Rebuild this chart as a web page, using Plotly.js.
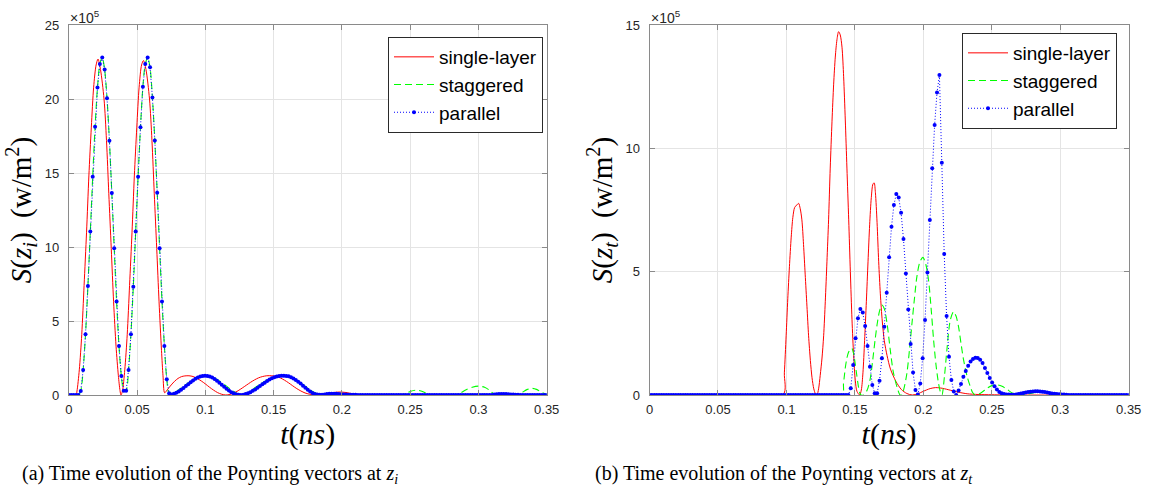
<!DOCTYPE html>
<html>
<head>
<meta charset="utf-8">
<script src="https://cdn.plot.ly/plotly-3.0.1.min.js"></script>
<style>html,body{margin:0;padding:0;background:#fff;}#chart{width:1151px;height:488px;}</style>
</head>
<body>
<div id="chart"></div>
<script>
// ---------- shared tick labels ----------
const xTickVals = [0, 0.05, 0.1, 0.15, 0.2, 0.25, 0.3, 0.35];
const xTickText = ["0", "0.05", "0.1", "0.15", "0.2", "0.25", "0.3", "0.35"];
const yTicksA = [0, 5, 10, 15, 20, 25];
const yTicksB = [0, 5, 10, 15];
const seriesNames = ["single-layer", "staggered", "parallel"];

// sample step of the parallel (marked) series, ns
const tStep = 0.00175;

// ---------- (a) at z_i, values in units of 1e5 W/m^2 ----------
const redA_t = [0, 0.0053, 0.006, 0.0077, 0.0095, 0.0112, 0.013, 0.0147, 0.0165, 0.0182, 0.02, 0.0214, 0.0232, 0.0258, 0.0276, 0.0293, 0.0311, 0.0328, 0.0346, 0.0363, 0.0375, 0.0382,
  0.0393, 0.041, 0.0428, 0.0445, 0.0463, 0.048, 0.0498, 0.0515, 0.0533, 0.0547, 0.0565, 0.0591, 0.0609, 0.0626, 0.0644, 0.0661, 0.0679, 0.069, 0.0702,
  0.0725, 0.075, 0.0775, 0.08, 0.0825, 0.085, 0.088, 0.091, 0.094, 0.097, 0.1, 0.103, 0.106, 0.109, 0.112, 0.115,
  0.118, 0.121, 0.124, 0.127, 0.13, 0.133, 0.136, 0.139, 0.142, 0.145, 0.1486, 0.152, 0.155, 0.158, 0.161, 0.164, 0.167, 0.17, 0.173, 0.176, 0.179, 0.1816,
  0.186, 0.19, 0.195, 0.1987, 0.203, 0.207, 0.211, 0.215, 0.35];
const redA_v = [0, 0, 0.27, 1.7, 4.1, 7.4, 11.0, 14.8, 18.1, 20.8, 22.3, 22.7, 22.0, 20.0, 17.2, 13.6, 9.9, 6.3, 3.3, 1.3, 0.3, 0,
  0.27, 1.7, 4.1, 7.4, 11.0, 14.8, 18.1, 20.8, 22.3, 22.6, 22.0, 20.0, 17.2, 13.6, 9.9, 6.3, 3.0, 1.3, 0.15,
  0.4, 0.68, 0.93, 1.12, 1.24, 1.29, 1.30, 1.25, 1.12, 0.95, 0.75, 0.53, 0.33, 0.16, 0.05, 0,
  0.04, 0.14, 0.29, 0.47, 0.66, 0.85, 1.02, 1.16, 1.25, 1.3, 1.3, 1.25, 1.15, 1.0, 0.82, 0.62, 0.43, 0.27, 0.14, 0.06, 0.02, 0,
  0.04, 0.1, 0.18, 0.2, 0.17, 0.1, 0.04, 0, 0];

const greenA_t = [0, 0.007, 0.00875, 0.0105, 0.01225, 0.014, 0.01575, 0.0175, 0.01925, 0.021, 0.02275, 0.0245, 0.02625, 0.028, 0.02975, 0.0315, 0.03325, 0.035, 0.03675, 0.0385, 0.04025,
  0.042, 0.04375, 0.0455, 0.04725, 0.049, 0.05075, 0.0525, 0.05425, 0.056, 0.05775, 0.0595, 0.06125, 0.063, 0.06475, 0.0665, 0.06825, 0.07, 0.07175, 0.0735,
  0.077, 0.08, 0.085, 0.09, 0.095, 0.1, 0.105, 0.11, 0.115, 0.12, 0.1254, 0.13, 0.135, 0.14, 0.145, 0.15, 0.1584, 0.165, 0.17, 0.175, 0.18, 0.184, 0.19, 0.199, 0.21, 0.22,
  0.2438, 0.2475, 0.2505, 0.2544, 0.258, 0.2615, 0.2646, 0.283, 0.287, 0.291, 0.2955, 0.3, 0.3045, 0.3085, 0.3122, 0.3293, 0.3325, 0.3358, 0.3391, 0.3425, 0.346, 0.35];
const greenA_v = [0, 0, 0.27, 1.69, 4.10, 7.36, 11.04, 14.75, 18.13, 20.77, 22.36, 22.8, 22.0, 20.05, 17.18, 13.65, 9.91, 6.31, 3.31, 1.28, 0.29,
  0.29, 1.69, 4.1, 7.32, 11.04, 14.75, 18.09, 20.83, 22.36, 22.8, 22.14, 20.1, 17.2, 13.67, 9.91, 6.31, 3.31, 1.06, 0.11,
  0.15, 0.32, 0.65, 0.98, 1.2, 1.3, 1.22, 0.97, 0.63, 0.29, 0.02, 0.1, 0.4, 0.72, 1.0, 1.2, 1.3, 1.12, 0.82, 0.46, 0.17, 0.03, 0.06, 0.1, 0.03, 0.01,
  0, 0.12, 0.26, 0.33, 0.27, 0.13, 0, 0, 0.15, 0.35, 0.53, 0.6, 0.52, 0.3, 0, 0, 0.2, 0.38, 0.45, 0.38, 0.2, 0.03];

const blueA_v = [0, 0, 0, 0, 0,
  0.27, 1.69, 4.10, 7.36, 11.04, 14.75, 18.13, 20.77, 22.36, 22.8, 22.0, 20.05, 17.18, 13.65, 9.91, 6.31, 3.31, 1.28, 0.29, 0.29,
  1.69, 4.1, 7.32, 11.04, 14.75, 18.09, 20.83, 22.36, 22.8, 22.14, 20.1, 17.2, 13.67, 9.91, 6.31, 3.31, 1.06, 0.11,
  0.03, 0.08, 0.15, 0.24, 0.35, 0.47, 0.6, 0.73, 0.86, 0.98, 1.09, 1.18, 1.25, 1.29, 1.30, 1.29, 1.25, 1.18, 1.08, 0.96, 0.83, 0.69, 0.55, 0.42, 0.30, 0.19, 0.11, 0.05, 0.01, 0.0,
  0.02, 0.06, 0.12, 0.19, 0.28, 0.38, 0.49, 0.6, 0.72, 0.83, 0.94, 1.04, 1.13, 1.2, 1.25, 1.28, 1.30, 1.30, 1.29, 1.26, 1.2, 1.12, 1.02, 0.9, 0.77, 0.63, 0.49, 0.36, 0.24, 0.14, 0.07, 0.03, 0.01,
  0.02, 0.04, 0.06, 0.08, 0.09, 0.09, 0.08, 0.07, 0.05, 0.04, 0.03, 0.02, 0.02, 0.02, 0.01,
  0, 0, 0, 0, 0, 0, 0, 0, 0, 0, 0, 0, 0, 0, 0, 0, 0, 0, 0, 0, 0, 0, 0, 0, 0, 0, 0, 0, 0, 0,
  0, 0, 0, 0, 0, 0, 0, 0, 0, 0, 0, 0, 0, 0, 0, 0, 0, 0, 0, 0, 0, 0, 0, 0, 0, 0, 0,
  0.03, 0.05, 0.06, 0.07, 0.07, 0.06, 0.05, 0.04, 0.03,
  0.02, 0.01, 0, 0, 0, 0, 0, 0, 0, 0, 0, 0, 0, 0];

// ---------- (b) at z_t ----------
const redB_t = [0, 0.0974, 0.0985, 0.0998, 0.101, 0.1022, 0.1035, 0.1047, 0.106, 0.1075, 0.1089, 0.1101, 0.1113, 0.1125, 0.1137, 0.115, 0.1162, 0.1175, 0.1187, 0.12, 0.1212, 0.1223,
  0.1235, 0.1247, 0.126, 0.1272, 0.1284, 0.1296, 0.1308, 0.132, 0.1333, 0.1345, 0.1357, 0.1369, 0.1381, 0.1393, 0.1406, 0.1418, 0.143, 0.1442, 0.1455, 0.1467, 0.1479, 0.1491, 0.1503, 0.1515, 0.1535,
  0.1547, 0.1559, 0.1571, 0.1584, 0.1596, 0.1608, 0.162, 0.1632, 0.1641, 0.165, 0.1662, 0.1674, 0.1686, 0.17, 0.1715, 0.1735, 0.176, 0.18, 0.184, 0.188, 0.192,
  0.196, 0.2, 0.205, 0.209, 0.214, 0.22, 0.226, 0.232, 0.24, 0.25, 0.26, 0.35];
const redB_v = [0, 0, 0.9, 2.4, 3.9, 5.2, 6.4, 7.2, 7.6, 7.7, 7.77, 7.55, 7.1, 6.1, 4.9, 3.6, 2.4, 1.4, 0.7, 0.25, 0.05, 0,
  0.25, 0.8, 1.5, 2.4, 3.8, 5.4, 7.1, 9.2, 11.1, 12.6, 13.7, 14.4, 14.73, 14.6, 14.1, 12.9, 11.15, 9.2, 7.1, 5.0, 3.05, 1.6, 0.6, 0.15, 0,
  0.2, 0.9, 2.2, 3.8, 5.4, 6.9, 8.0, 8.55, 8.6, 8.2, 7.0, 5.4, 4.1, 3.0, 2.2, 1.6, 1.05, 0.55, 0.22, 0.06, 0,
  0.05, 0.15, 0.26, 0.3, 0.27, 0.19, 0.11, 0.05, 0.02, 0.01, 0, 0];

const greenB_t = [0, 0.1405, 0.1417, 0.143, 0.1442, 0.1453, 0.1466, 0.1478, 0.149, 0.1502, 0.1514, 0.1526, 0.1535, 0.1544,
  0.1565, 0.159, 0.1612, 0.163, 0.1648, 0.1665, 0.168, 0.1697, 0.1715, 0.1735, 0.1758, 0.178, 0.1807, 0.183,
  0.1843, 0.186, 0.188, 0.19, 0.1917, 0.1935, 0.1953, 0.1975, 0.1997, 0.2018, 0.2038, 0.2057, 0.2075, 0.2093, 0.2111, 0.2125, 0.2136,
  0.2155, 0.2172, 0.2197, 0.2221, 0.2239, 0.2257, 0.2275, 0.2294, 0.232, 0.2343, 0.236, 0.2379,
  0.242, 0.2465, 0.25, 0.2538, 0.2575, 0.2611, 0.265, 0.2684, 0.275, 0.285, 0.295, 0.305, 0.35];
const greenB_v = [0, 0, 0.47, 1.1, 1.5, 1.72, 1.85, 1.89, 1.7, 1.28, 0.8, 0.34, 0.1, 0,
  0, 0.2, 0.65, 1.4, 2.25, 2.95, 3.4, 3.65, 3.5, 2.9, 1.85, 0.95, 0.34, 0,
  0, 0.3, 0.88, 1.9, 2.9, 3.9, 4.8, 5.4, 5.58, 5.3, 4.66, 3.5, 2.23, 1.2, 0.47, 0.12, 0,
  0.8, 1.82, 3.04, 3.38, 3.2, 2.77, 2.1, 1.42, 0.75, 0.34, 0.1, 0,
  0.08, 0.27, 0.38, 0.41, 0.35, 0.23, 0.08, 0, 0.03, 0.12, 0.05, 0, 0];

const blueB_v = [0, 0, 0, 0, 0, 0, 0, 0, 0, 0, 0, 0, 0, 0, 0, 0, 0, 0, 0, 0, 0, 0, 0, 0, 0, 0, 0, 0, 0, 0,
  0, 0, 0, 0, 0, 0, 0, 0, 0, 0, 0, 0, 0, 0, 0, 0, 0, 0, 0, 0, 0, 0, 0, 0, 0, 0, 0, 0, 0, 0,
  0, 0, 0, 0, 0, 0, 0, 0, 0, 0, 0, 0, 0, 0, 0, 0, 0, 0, 0, 0, 0, 0, 0, 0,
  0.27, 1.22, 2.3, 3.11, 3.49, 3.34, 2.80, 1.99, 1.15, 0.41, 0.07, 0.07, 0.58, 1.49, 2.77, 4.15, 5.58, 6.82, 7.70, 8.15, 8.01, 7.39, 6.32, 4.93, 3.47, 2.07, 0.91, 0.2,
  0.02, 0.47, 1.49, 3.04, 4.97, 7.09, 9.19, 10.95, 12.26, 12.97, 9.42, 5.72, 3.2, 1.55, 0.61, 0.14, 0.0,
  0.18, 0.45, 0.74, 0.97, 1.19, 1.36, 1.46, 1.51, 1.5, 1.43, 1.30, 1.09, 0.89, 0.69, 0.51, 0.35, 0.22, 0.12, 0.07, 0.04, 0.02, 0.02,
  0.01, 0.01, 0.02, 0.04, 0.06, 0.08, 0.1, 0.12, 0.13, 0.14, 0.15, 0.15, 0.14, 0.13, 0.12, 0.1, 0.08, 0.06, 0.05, 0.04, 0.03, 0.02, 0.02, 0.01,
  0, 0, 0, 0, 0, 0, 0, 0, 0, 0, 0, 0, 0, 0, 0, 0, 0, 0, 0, 0, 0, 0, 0, 0, 0, 0];

// time axis of the marked series
const gridA = blueA_v.map((_, i) => +(i * tStep).toFixed(5));
const gridB = blueB_v.map((_, i) => +(i * tStep).toFixed(5));

const RED = '#ff0000', GREEN = '#00ff00', BLUE = '#0000ff';
function mk(x, y, which, ax, legend) {
  const base = {x: x, y: y, name: seriesNames[which], xaxis: 'x' + ax, yaxis: 'y' + ax, legend: legend, showlegend: true, hoverinfo: 'skip'};
  if (which === 0) return Object.assign(base, {mode: 'lines', line: {color: RED, width: 1, shape: 'spline', smoothing: 0.8}});
  if (which === 1) return Object.assign(base, {mode: 'lines', line: {color: GREEN, width: 1.1, dash: '7px,4px', shape: 'spline', smoothing: 0.8}});
  return Object.assign(base, {mode: 'lines+markers', line: {color: BLUE, width: 1, dash: '1px,2px'}, marker: {color: BLUE, size: 4}});
}
const traces = [
  mk(redA_t, redA_v, 0, '', 'legend'),
  mk(greenA_t, greenA_v, 1, '', 'legend'),
  mk(gridA, blueA_v, 2, '', 'legend'),
  mk(redB_t, redB_v, 0, '2', 'legend2'),
  mk(greenB_t, greenB_v, 1, '2', 'legend2'),
  mk(gridB, blueB_v, 2, '2', 'legend2')
];

const AX = '#8a8a8a', GRID = '#e4e4e4', TXT = '#262626';
const tickFont = {family: 'Liberation Sans, Arial, sans-serif', size: 13, color: TXT};
const serif = 'Liberation Serif, Times New Roman, serif';
function xAx(domain, anchor) {
  return {domain: domain, anchor: anchor, range: [0, 0.35], tickvals: xTickVals, ticktext: xTickText,
    ticks: 'inside', ticklen: 5, tickcolor: AX, showline: true, linecolor: AX, linewidth: 1, mirror: 'ticks',
    showgrid: true, gridcolor: GRID, zeroline: false, tickfont: tickFont, ticklabelstandoff: 2,
    title: {text: '<i>t</i>(<i>ns</i>)', font: {family: serif, size: 30, color: '#000'}, standoff: 4}};
}
function yAx(domain, anchor, range, ticks, title) {
  return {domain: domain, anchor: anchor, range: range, tickvals: ticks, ticktext: ticks.map(String),
    ticks: 'inside', ticklen: 5, tickcolor: AX, showline: true, linecolor: AX, linewidth: 1, mirror: 'ticks',
    showgrid: true, gridcolor: GRID, zeroline: false, tickfont: tickFont, ticklabelstandoff: 6,
    title: {text: title, font: {family: serif, size: 29, color: '#000'}, standoff: 4}};
}
const yDom = [1 - 395 / 488, 1 - 25 / 488];
const legendBase = {bgcolor: '#ffffff', bordercolor: '#2a2a2a', borderwidth: 1, font: {family: 'Liberation Sans, Arial, sans-serif', size: 19, color: '#000'},
  xanchor: 'right', yanchor: 'top', tracegroupgap: 0, itemwidth: 40};
const layout = {
  width: 1151, height: 488, margin: {l: 0, r: 0, t: 0, b: 0}, paper_bgcolor: '#fff', plot_bgcolor: '#fff',
  xaxis: xAx([68.8 / 1151, 546.7 / 1151], 'y'),
  yaxis: yAx(yDom, 'x', [0, 25], yTicksA, '<i>S</i>(<i>z<sub>i</sub></i>)  (w/m<sup>2</sup>)'),
  xaxis2: xAx([649.5 / 1151, 1128.7 / 1151], 'y2'),
  yaxis2: yAx(yDom, 'x2', [0, 15], yTicksB, '<i>S</i>(<i>z<sub>t</sub></i>)  (w/m<sup>2</sup>)'),
  legend: Object.assign({}, legendBase, {x: 543 / 1151, y: 1 - 37 / 488}),
  legend2: Object.assign({}, legendBase, {x: 1117 / 1151, y: 1 - 33 / 488}),
  annotations: [
    {xref: 'paper', yref: 'paper', x: 68 / 1151, y: 1 - 17 / 488, xanchor: 'left', yanchor: 'middle', showarrow: false,
      text: '×10<sup>5</sup>', font: {family: 'Liberation Sans, Arial, sans-serif', size: 14, color: TXT}},
    {xref: 'paper', yref: 'paper', x: 649 / 1151, y: 1 - 17 / 488, xanchor: 'left', yanchor: 'middle', showarrow: false,
      text: '×10<sup>5</sup>', font: {family: 'Liberation Sans, Arial, sans-serif', size: 14, color: TXT}},
    {xref: 'paper', yref: 'paper', x: 20 / 1151, y: 1 - 474 / 488, xanchor: 'left', yanchor: 'middle', showarrow: false,
      text: '(a) Time evolution of the Poynting vectors at <i>z<sub>i</sub></i>', font: {family: serif, size: 20, color: '#000'}},
    {xref: 'paper', yref: 'paper', x: 593 / 1151, y: 1 - 474 / 488, xanchor: 'left', yanchor: 'middle', showarrow: false,
      text: '(b) Time evolution of the Poynting vectors at <i>z<sub>t</sub></i>', font: {family: serif, size: 20, color: '#000'}}
  ]
};
Plotly.newPlot('chart', traces, layout, {staticPlot: true, displayModeBar: false});
</script>
</body>
</html>
